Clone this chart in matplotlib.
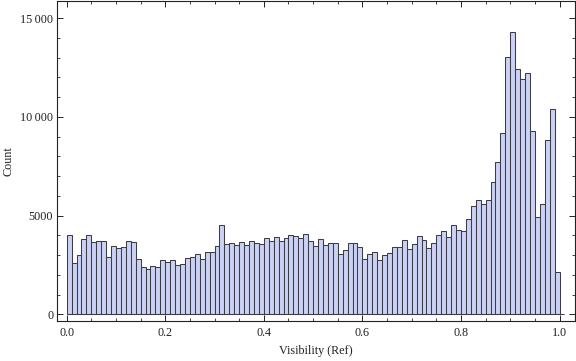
import numpy as np
import matplotlib
matplotlib.use("Agg")
import matplotlib.pyplot as plt
from matplotlib.ticker import MultipleLocator, FuncFormatter

# bin counts, 100 bins of width 0.01 on [0, 1]
counts = [
    4037, 2618, 3023, 3834, 4037, 3682, 3733, 3733, 2922, 3479,
    3378, 3429, 3733, 3682, 2821, 2415, 2314, 2466, 2415, 2770,
    2669, 2770, 2517, 2567, 2871, 2922, 3074, 2821, 3175, 3175,
    3479, 4543, 3581, 3631, 3530, 3682, 3530, 3733, 3631, 3581,
    3885, 3733, 3935, 3733, 3885, 4037, 3986, 3885, 4087, 3733,
    3479, 3834, 3530, 3631, 3631, 3074, 3277, 3631, 3631, 3429,
    2821, 3074, 3175, 2770, 3023, 3125, 3429, 3429, 3783, 3327,
    3581, 3986, 3783, 3378, 3631, 4037, 4239, 3935, 4543, 4290,
    4239, 4847, 5506, 5810, 5607, 5810, 6722, 7736, 9158, 13008,
    14275, 12400, 11893, 12197, 9258, 4949, 5607, 8800, 10372, 2162,
]
bin_edges = np.linspace(0, 1, len(counts) + 1)

x_label = "Visibility (Ref)"
y_label = "Count"

plt.rcParams['font.family'] = ['Liberation Serif', 'DejaVu Serif']

fig = plt.figure(figsize=(5.76, 3.61), dpi=100)
ax = fig.add_axes([0.0984, 0.1108, 0.8996, 0.886])

ax.bar(bin_edges[:-1], counts, width=np.diff(bin_edges), align='edge',
       facecolor='#cad1f3', edgecolor='#3c3c46', linewidth=0.75)
ax.hlines(0, 0, 1.01, color='#3c3c46', linewidth=0.75)

ax.set_xlim(-0.0203, 1.031)
ax.set_ylim(-339, 15854)

ax.xaxis.set_major_locator(MultipleLocator(0.2))
ax.xaxis.set_minor_locator(MultipleLocator(0.05))
ax.yaxis.set_major_locator(MultipleLocator(5000))
ax.yaxis.set_minor_locator(MultipleLocator(1000))
ax.xaxis.set_major_formatter(FuncFormatter(lambda v, p: f"{v:.1f}"))

def yfmt(v, p):
    v = int(round(v))
    if v >= 10000:
        return f"{v // 1000}\u2009{v % 1000:03d}"
    return str(v)

ax.yaxis.set_major_formatter(FuncFormatter(yfmt))

ax.tick_params(which='both', direction='in', top=True, right=True,
               color='#222222', labelsize=8.7, labelcolor='#222222')
ax.tick_params(which='major', length=4.5, width=0.7)
ax.tick_params(which='minor', length=2.5, width=0.6)
ax.tick_params(axis='x', pad=4.5)
ax.tick_params(axis='y', pad=2.5)

for s in ax.spines.values():
    s.set_color('#222222')
    s.set_linewidth(0.8)

ax.set_xlabel(x_label, fontsize=8.7, color='#222222', labelpad=4)
ax.set_ylabel(y_label, fontsize=8.7, color='#222222')
# put "Count" centred about 9 px from the left edge
ax.yaxis.label.set_va('center')
ax.yaxis.set_label_coords((9 - 56.7) / 518.3, 0.5)

fig.savefig("out.png", dpi=100)
